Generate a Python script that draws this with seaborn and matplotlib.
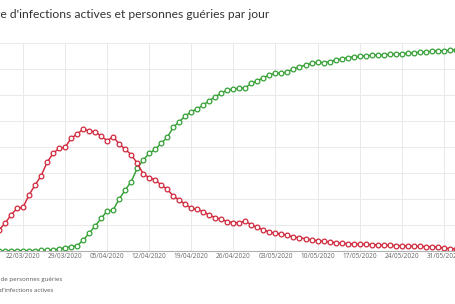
import matplotlib
matplotlib.use("Agg")
import matplotlib.pyplot as plt
import matplotlib.dates as mdates
import seaborn as sns
import pandas as pd

# ---------------- data ----------------
start_date = "2020-03-17"
actives = [320, 404, 532, 692, 821, 840, 1077, 1269, 1442, 1705, 1878, 1974, 1994, 2167, 2250,
           2340, 2313, 2288, 2212, 2121, 2198, 2058, 1956, 1852, 1687,
           1481, 1410, 1365, 1269, 1186, 1058, 981, 898, 821, 802,
           756, 692, 641, 610, 564, 545, 545, 577, 500, 455,
           404, 365, 340, 327, 302, 270, 255, 237, 212, 199,
           186, 173, 160, 150, 141, 135, 130, 128, 122, 120,
           115, 109, 104, 102, 96, 94, 89, 83, 78, 70,
           58, 45, 40]
gueries = [5, 5, 5, 5, 5, 5, 8, 8, 10, 12, 19, 38, 64, 83, 100,
           210, 340, 481, 628, 769, 788, 1000, 1173, 1333, 1590,
           1750, 1878, 1955, 2071, 2186, 2379, 2487, 2596, 2679, 2731,
           2808, 2890, 2968, 3033, 3096, 3115, 3128, 3141, 3224, 3275,
           3333, 3385, 3417, 3417, 3448, 3500, 3544, 3571, 3610, 3629,
           3621, 3640, 3673, 3692, 3717, 3737, 3744, 3750, 3763, 3769,
           3776, 3782, 3788, 3795, 3801, 3814, 3820, 3827, 3840, 3846,
           3852, 3859, 3865]
tick_labels = ["22/03/2020", "29/03/2020", "05/04/2020", "12/04/2020", "19/04/2020",
               "26/04/2020", "03/05/2020", "10/05/2020", "17/05/2020", "24/05/2020",
               "31/05/2020"]
y_ticks = [0, 500, 1000, 1500, 2000, 2500, 3000, 3500, 4000]
title = "Nombre d'infections actives et personnes guéries par jour"
label_gueries = "Nombre de personnes guéries"
label_actives = "Nombre d'infections actives"

dates = pd.date_range(start_date, periods=len(actives), freq="D")
df = pd.DataFrame({"date": dates, "actives": actives, "gueries": gueries})

# ---------------- style ----------------
sns.set_theme(style="white")
plt.rcParams["font.family"] = ["Lato", "DejaVu Sans"]

RED = "#d0283c"
GREEN = "#34a034"

W, H = 456, 304
fig = plt.figure(figsize=(W / 100, H / 100), dpi=100)
L, R, T, B = -40, 470, 43, 251
ax = fig.add_axes([L / W, (H - B) / H, (R - L) / W, (B - T) / H])

common = dict(marker="o", markersize=3.4, markerfacecolor="white",
              markeredgewidth=0.9, linewidth=1.05, ax=ax, legend=False)
sns.lineplot(data=df, x="date", y="gueries", color=GREEN, markeredgecolor=GREEN, **common)
sns.lineplot(data=df, x="date", y="actives", color=RED, markeredgecolor=RED, **common)

# x mapping: 19/03 at pixel 5, 6.01 px per day
x0 = mdates.date2num(pd.Timestamp("2020-03-19"))
ppd = 6.01
ax.set_xlim(x0 + (L - 5) / ppd, x0 + (R - 5) / ppd)
ax.set_ylim(0, 4000)

tick_pos = pd.to_datetime(tick_labels, format="%d/%m/%Y")
ax.set_xticks(tick_pos)
ax.set_xticklabels(tick_labels)
ax.set_yticks(y_ticks)
ax.tick_params(axis="y", left=False, labelleft=False)
ax.tick_params(axis="x", length=0, pad=1.6, labelsize=4.7, labelcolor="#666666")
for lab in ax.get_xticklabels():
    lab.set_fontfamily(["Open Sans", "DejaVu Sans"])
ax.set_xlabel("")
ax.set_ylabel("")
ax.grid(True, color="#e9e9e9", linewidth=0.7)
ax.set_axisbelow(True)
for s in ["top", "right", "left"]:
    ax.spines[s].set_visible(False)
ax.spines["bottom"].set_color("#b0b0b0")
ax.spines["bottom"].set_linewidth(0.8)

renderer = fig.canvas.get_renderer()


def start_offset(full, idx, **kw):
    """pixel width before character idx of full text."""
    t1 = fig.text(0, 0, full[:idx + 1], **kw)
    t2 = fig.text(0, 0, full[idx], **kw)
    w = t1.get_window_extent(renderer).width - t2.get_window_extent(renderer).width
    t1.remove()
    t2.remove()
    return w


# title (cropped on the left in the reference)
tkw = dict(fontsize=8.7, color="#333333")
off = start_offset(title, title.index("e d'"), **tkw)
fig.text((0 - off) / W, (H - 18.3) / H, title, ha="left", va="baseline", **tkw)

# legend entries (symbols are cropped in the reference)
lkw = dict(fontsize=4.4, color="#555555", family=["Open Sans", "DejaVu Sans"])
off_l = start_offset(label_gueries, label_gueries.index("de "), **lkw)
fig.text((0.2 - off_l) / W, (H - 279.5) / H, label_gueries, ha="left", va="center", **lkw)
off_l2 = start_offset(label_actives, label_actives.index("d'"), **lkw)
fig.text((-0.4 - off_l2) / W, (H - 290.7) / H, label_actives, ha="left", va="center", **lkw)

fig.savefig("out.png", dpi=100)
